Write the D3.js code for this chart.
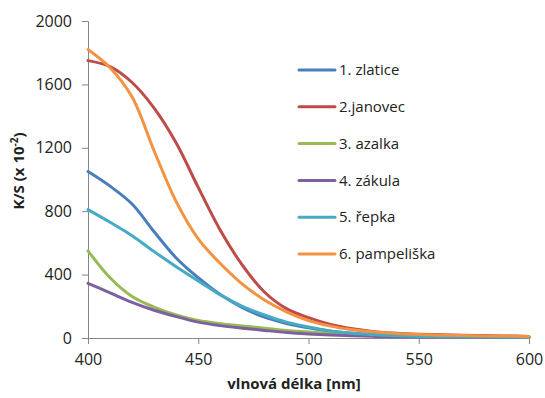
<!DOCTYPE html>
<html>
<head>
<meta charset="utf-8">
<script src="https://cdn.jsdelivr.net/npm/d3@7"></script>
<style>
  body { margin: 0; background: #fff; }
  svg { display: block; font-family: "Open Sans", sans-serif; }
</style>
</head>
<body>
<svg id="chart" width="545" height="398"></svg>
<script>
const wavelengths = [400, 410, 420, 430, 440, 450, 460, 470, 480, 490, 500, 510, 520, 530, 540, 550, 560, 570, 580, 590, 600]

const zlatice = [1050, 958, 845, 670, 505, 380, 274, 192, 132, 92, 64, 43, 30, 21, 16, 12, 10, 8, 7, 6, 5]
const janovec = [1750, 1712, 1612, 1450, 1230, 950, 680, 460, 290, 185, 128, 85, 58, 40, 30, 24, 20, 17, 15, 13, 10]
const azalka = [550, 380, 262, 195, 145, 110, 90, 76, 62, 48, 38, 28, 20, 15, 12, 10, 8, 7, 6, 5, 5]
const zakula = [345, 285, 225, 175, 135, 100, 78, 62, 48, 35, 26, 19, 14, 10, 8, 7, 6, 5, 5, 4, 4]
const repka = [810, 730, 645, 545, 450, 360, 272, 200, 145, 100, 70, 45, 30, 20, 14, 10, 8, 7, 6, 5, 5]
const pampeliska = [1820, 1705, 1520, 1180, 860, 625, 470, 340, 240, 165, 110, 75, 52, 38, 28, 22, 18, 15, 13, 12, 10]

const seriesNames = ['1. zlatice', '2.janovec', '3. azalka', '4. zákula', '5. řepka', '6. pampeliška']
const seriesValues = [zlatice, janovec, azalka, zakula, repka, pampeliska]
const seriesColors = ['#4a7ebb', '#be4b48', '#98b954', '#7d60a0', '#46aac5', '#f39240']

const xTicks = [400, 450, 500, 550, 600]
const yTicks = [0, 400, 800, 1200, 1600, 2000]

const svg = d3.select('#chart')
const axisColor = '#868686'

const x = d3.scaleLinear().domain([400, 600]).range([88, 529])
const y = d3.scaleLinear().domain([0, 2000]).range([338, 21])

// axes
const xAxis = svg.append('g')
  .attr('transform', `translate(0,${y(0)})`)
  .call(d3.axisBottom(x).tickValues(xTicks).tickSize(6).tickPadding(10).tickFormat(d3.format('d')))
const yAxis = svg.append('g')
  .attr('transform', `translate(${x(400)},0)`)
  .call(d3.axisLeft(y).tickValues(yTicks).tickSize(6).tickPadding(10).tickFormat(d3.format('d')))

;[xAxis, yAxis].forEach((g) => {
  g.select('.domain').attr('stroke', axisColor).attr('stroke-width', 1)
  g.selectAll('.tick line').attr('stroke', axisColor)
  g.selectAll('.tick text')
    .attr('fill', '#222')
    .style('font-size', '16px')
    .style('font-family', '"Open Sans", sans-serif')
})

// lines, smoothed like the spreadsheet original
const line = d3.line()
  .x((d, i) => x(wavelengths[i]))
  .y((d) => y(d))
  .curve(d3.curveCatmullRom.alpha(0.5))

svg.append('g')
  .selectAll('path')
  .data(seriesValues)
  .join('path')
  .attr('d', (d) => line(d))
  .attr('fill', 'none')
  .attr('stroke', (d, i) => seriesColors[i])
  .attr('stroke-width', 3)
  .attr('stroke-linecap', 'round')

// legend
const legend = svg.append('g')
  .selectAll('g')
  .data(seriesNames)
  .join('g')
  .attr('transform', (d, i) => `translate(299,${70 + i * 36.8})`)

legend.append('line')
  .attr('x1', 0).attr('x2', 36)
  .attr('stroke', (d, i) => seriesColors[i])
  .attr('stroke-width', 3)
  .attr('stroke-linecap', 'round')

legend.append('text')
  .attr('x', 40)
  .attr('dy', '0.35em')
  .style('font-size', '15px')
  .attr('fill', '#222')
  .text((d) => d)

// axis titles
svg.append('text')
  .attr('x', 294)
  .attr('y', 389)
  .attr('text-anchor', 'middle')
  .style('font-size', '15px')
  .style('font-weight', 'bold')
  .attr('fill', '#222')
  .text('vlnová délka [nm]')

const yTitle = svg.append('text')
  .attr('transform', 'translate(24,171) rotate(-90)')
  .attr('text-anchor', 'middle')
  .style('font-size', '15px')
  .style('font-weight', 'bold')
  .attr('fill', '#222')
yTitle.append('tspan').text('K/S (x 10')
yTitle.append('tspan').attr('dy', -6).style('font-size', '10px').text('-2')
yTitle.append('tspan').attr('dy', 6).text(')')
</script>
</body>
</html>
